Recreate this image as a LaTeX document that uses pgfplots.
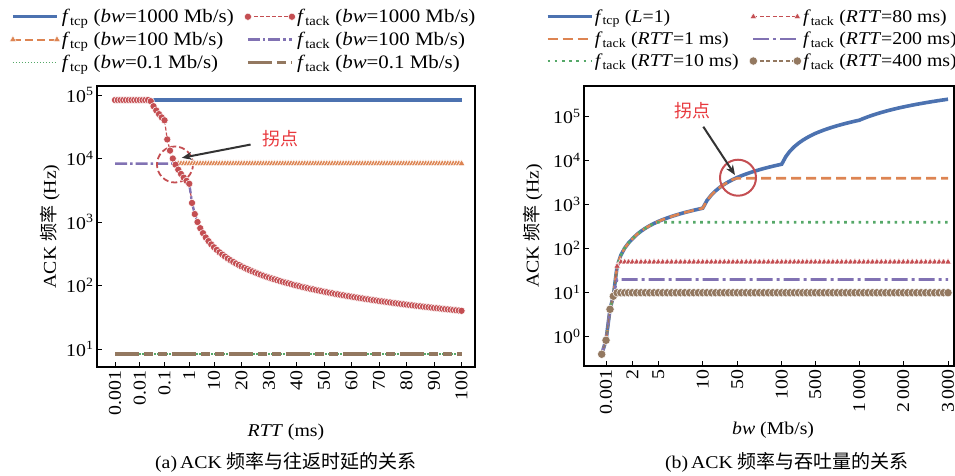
\documentclass[border=0pt]{standalone}
\usepackage{fontspec}
\setmainfont{Liberation Serif}[FakeStretch=1.1]
\newfontfamily\cjk{Noto Sans CJK SC}
\usepackage{pgfplots}
\pgfplotsset{compat=1.18}
\usepackage{pgfplotstable}
\usetikzlibrary{arrows.meta}

\definecolor{cblue}{HTML}{4C72B0}
\definecolor{corange}{HTML}{DD8452}
\definecolor{cgreen}{HTML}{55A868}
\definecolor{cred}{HTML}{C44E52}
\definecolor{cpurple}{HTML}{8172B3}
\definecolor{cbrown}{HTML}{937860}
\definecolor{cnote}{HTML}{E8383D}
\definecolor{carrow}{HTML}{333333}

% (a) f vs RTT, one row per RTT sample (x = sample index)
\pgfplotstableread{
rtt tackA tackB tcpB
0.001 83333 8333.3 nan
0.002 83333 8333.3 nan
0.003 83333 8333.3 nan
0.004 83333 8333.3 nan
0.005 83333 8333.3 nan
0.006 83333 8333.3 nan
0.007 83333 8333.3 nan
0.008 83333 8333.3 nan
0.009 83333 8333.3 nan
0.01 83333 8333.3 nan
0.02 83333 8333.3 nan
0.03 83333 8333.3 nan
0.04 83333 8333.3 nan
0.05 80000 8333.3 nan
0.06 66667 8333.3 nan
0.07 57143 8333.3 nan
0.08 50000 8333.3 nan
0.09 44444 8333.3 nan
0.1 40000 8333.3 nan
0.2 20000 8333.3 nan
0.3 13333 8333.3 nan
0.4 10000 8333.3 nan
0.5 8000 8000 8333.3
0.6 6667 6667 8333.3
0.7 5714 5714 8333.3
0.8 5000 5000 8333.3
0.9 4444 4444 8333.3
1 4000 4000 8333.3
2 2000 2000 8333.3
3 1333 1333 8333.3
4 1000 1000 8333.3
5 800 800 8333.3
6 667 667 8333.3
7 571 571 8333.3
8 500 500 8333.3
9 444 444 8333.3
10 400 400 8333.3
11 363.6 363.6 8333.3
12 333.3 333.3 8333.3
13 307.7 307.7 8333.3
14 285.7 285.7 8333.3
15 266.7 266.7 8333.3
16 250.0 250.0 8333.3
17 235.3 235.3 8333.3
18 222.2 222.2 8333.3
19 210.5 210.5 8333.3
20 200.0 200.0 8333.3
21 190.5 190.5 8333.3
22 181.8 181.8 8333.3
23 173.9 173.9 8333.3
24 166.7 166.7 8333.3
25 160.0 160.0 8333.3
26 153.8 153.8 8333.3
27 148.1 148.1 8333.3
28 142.9 142.9 8333.3
29 137.9 137.9 8333.3
30 133.3 133.3 8333.3
31 129.0 129.0 8333.3
32 125.0 125.0 8333.3
33 121.2 121.2 8333.3
34 117.6 117.6 8333.3
35 114.3 114.3 8333.3
36 111.1 111.1 8333.3
37 108.1 108.1 8333.3
38 105.3 105.3 8333.3
39 102.6 102.6 8333.3
40 100.0 100.0 8333.3
41 97.6 97.6 8333.3
42 95.2 95.2 8333.3
43 93.0 93.0 8333.3
44 90.9 90.9 8333.3
45 88.9 88.9 8333.3
46 87.0 87.0 8333.3
47 85.1 85.1 8333.3
48 83.3 83.3 8333.3
49 81.6 81.6 8333.3
50 80.0 80.0 8333.3
51 78.4 78.4 8333.3
52 76.9 76.9 8333.3
53 75.5 75.5 8333.3
54 74.1 74.1 8333.3
55 72.7 72.7 8333.3
56 71.4 71.4 8333.3
57 70.2 70.2 8333.3
58 69.0 69.0 8333.3
59 67.8 67.8 8333.3
60 66.7 66.7 8333.3
61 65.6 65.6 8333.3
62 64.5 64.5 8333.3
63 63.5 63.5 8333.3
64 62.5 62.5 8333.3
65 61.5 61.5 8333.3
66 60.6 60.6 8333.3
67 59.7 59.7 8333.3
68 58.8 58.8 8333.3
69 58.0 58.0 8333.3
70 57.1 57.1 8333.3
71 56.3 56.3 8333.3
72 55.6 55.6 8333.3
73 54.8 54.8 8333.3
74 54.1 54.1 8333.3
75 53.3 53.3 8333.3
76 52.6 52.6 8333.3
77 51.9 51.9 8333.3
78 51.3 51.3 8333.3
79 50.6 50.6 8333.3
80 50.0 50.0 8333.3
81 49.4 49.4 8333.3
82 48.8 48.8 8333.3
83 48.2 48.2 8333.3
84 47.6 47.6 8333.3
85 47.1 47.1 8333.3
86 46.5 46.5 8333.3
87 46.0 46.0 8333.3
88 45.5 45.5 8333.3
89 44.9 44.9 8333.3
90 44.4 44.4 8333.3
91 44.0 44.0 8333.3
92 43.5 43.5 8333.3
93 43.0 43.0 8333.3
94 42.6 42.6 8333.3
95 42.1 42.1 8333.3
96 41.7 41.7 8333.3
97 41.2 41.2 8333.3
98 40.8 40.8 8333.3
99 40.4 40.4 8333.3
100 40.0 40.0 8333.3
}\rttdata

% (b) f vs bw; x is the position along the (non-uniform) bw axis
\pgfplotstableread{
x tcp r1 r10 r80 r200 r400
601.7 0.4 0.4 0.4 0.4 0.4 0.4
606.0 0.83 0.83 0.83 0.83 0.83 0.83
610.0 4.2 4.2 4.2 4.2 4.2 4.2
613.3 8.33 8.33 8.33 8.33 8.33 8.33
617.1 40.0 40.0 40.0 40.0 20 10
620.9 71.7 71.7 71.7 50 20 10
624.7 103.3 103.3 103.3 50 20 10
628.5 135.0 135.0 135.0 50 20 10
632.3 166.7 166.7 166.7 50 20 10
636.6 208.3 208.3 208.3 50 20 10
641.0 250.0 250.0 250.0 50 20 10
645.3 291.7 291.7 291.7 50 20 10
649.6 333.3 333.3 333.3 50 20 10
654.0 375.0 375.0 375.0 50 20 10
658.3 416.7 416.7 400 50 20 10
662.7 458.3 458.3 400 50 20 10
667.2 500.0 500.0 400 50 20 10
671.6 541.7 541.7 400 50 20 10
676.1 583.3 583.3 400 50 20 10
680.5 625.0 625.0 400 50 20 10
684.9 666.7 666.7 400 50 20 10
689.4 708.3 708.3 400 50 20 10
693.8 750.0 750.0 400 50 20 10
698.3 791.7 791.7 400 50 20 10
702.7 833.3 833.3 400 50 20 10
707.0 1250 1250 400 50 20 10
711.4 1666.7 1666.7 400 50 20 10
715.7 2083.3 2083.3 400 50 20 10
720.0 2500 2500 400 50 20 10
724.3 2916.7 2916.7 400 50 20 10
728.7 3333.3 3333.3 400 50 20 10
733.0 3750 3750 400 50 20 10
737.3 4166.7 4000 400 50 20 10
741.7 4583.3 4000 400 50 20 10
746.2 5000 4000 400 50 20 10
750.6 5416.7 4000 400 50 20 10
755.1 5833.3 4000 400 50 20 10
759.5 6250 4000 400 50 20 10
763.9 6666.7 4000 400 50 20 10
768.4 7083.3 4000 400 50 20 10
772.8 7500 4000 400 50 20 10
777.3 7916.7 4000 400 50 20 10
781.7 8333.3 4000 400 50 20 10
785.9 12500 4000 400 50 20 10
790.1 16667 4000 400 50 20 10
794.3 20833 4000 400 50 20 10
798.5 25000 4000 400 50 20 10
802.7 29167 4000 400 50 20 10
806.9 33333 4000 400 50 20 10
811.1 37500 4000 400 50 20 10
815.3 41667 4000 400 50 20 10
819.7 45833 4000 400 50 20 10
824.1 50000 4000 400 50 20 10
828.5 54167 4000 400 50 20 10
832.9 58333 4000 400 50 20 10
837.3 62500 4000 400 50 20 10
841.7 66667 4000 400 50 20 10
846.1 70833 4000 400 50 20 10
850.5 75000 4000 400 50 20 10
854.9 79167 4000 400 50 20 10
859.3 83333 4000 400 50 20 10
863.7 91667 4000 400 50 20 10
868.1 100000 4000 400 50 20 10
872.5 108333 4000 400 50 20 10
876.9 116667 4000 400 50 20 10
881.3 125000 4000 400 50 20 10
885.7 133333 4000 400 50 20 10
890.1 141667 4000 400 50 20 10
894.5 150000 4000 400 50 20 10
898.9 158333 4000 400 50 20 10
903.3 166667 4000 400 50 20 10
907.8 175000 4000 400 50 20 10
912.2 183333 4000 400 50 20 10
916.7 191667 4000 400 50 20 10
921.2 200000 4000 400 50 20 10
925.7 208333 4000 400 50 20 10
930.1 216667 4000 400 50 20 10
934.6 225000 4000 400 50 20 10
939.1 233333 4000 400 50 20 10
943.5 241667 4000 400 50 20 10
948.0 250000 4000 400 50 20 10
}\bwdata

\pgfplotsset{
  legend image code/.code={\draw[#1] plot coordinates {(0pt,0pt) (44pt,0pt)};},
  every axis/.append style={
    scale only axis, enlargelimits=false,
    axis line style={line width=1.1pt},
    tick align=inside, xtick pos=left, ytick pos=left,
    major tick length=5pt, tick style={black, line width=1pt},
    minor tick style={draw=none},
    tick label style={font=\fontsize{18}{21}\selectfont},
    label style={font=\fontsize{18}{21}\selectfont},
    xticklabel style={rotate=90, anchor=east},
    ylabel={ACK {\cjk 频率} (Hz)},
    legend cell align=left, legend columns=2,
    legend style={draw=none, fill=none, inner sep=0pt, row sep=5pt,
      nodes={inner sep=1.5pt},
      /tikz/every even column/.append style={column sep=9pt}},
  },
}
\tikzset{
  lblue/.style={cblue, line width=3.2pt},
  lorange/.style={corange, line width=2.2pt, dash pattern=on 8pt off 4pt,
    mark=triangle*, mark size=4pt, mark options={solid, fill=corange, draw=white, line width=0.5pt}},
  lgreen/.style={cgreen, line width=1.4pt, dash pattern=on 1.5pt off 1.5pt},
  lred/.style={cred, line width=1.2pt, dash pattern=on 4pt off 2pt,
    mark=*, mark size=3.6pt, mark options={solid, fill=cred, draw=white, line width=0.5pt}},
  lpurple/.style={cpurple, line width=2.4pt, dash pattern=on 12pt off 3pt on 2.5pt off 3pt},
  lbrown/.style={cbrown, line width=3.6pt,
    dash pattern=on 24pt off 5pt on 9pt off 5pt on 9pt off 5pt},
  rblue/.style={cblue, line width=3.6pt},
  rorange/.style={corange, line width=2.6pt, dash pattern=on 10pt off 5pt},
  rgreen/.style={cgreen, line width=2.6pt, dash pattern=on 2.6pt off 4.6pt},
  rred/.style={cred, line width=1.2pt, dash pattern=on 4pt off 2.5pt,
    mark=triangle*, mark size=3.8pt, mark options={solid, fill=cred, draw=white, line width=0.5pt}},
  rpurple/.style={cpurple, line width=2.6pt, dash pattern=on 16pt off 4pt on 3pt off 4pt},
  rbrown/.style={cbrown, line width=1.2pt, dash pattern=on 4pt off 2.5pt,
    mark=*, mark size=4.2pt, mark options={solid, fill=cbrown, draw=white, line width=0.5pt}},
}

% legend text: left panel a bit larger than the right one
\newcommand{\ftcp}{\fontsize{19}{22}\selectfont\textit{f}\textsubscript{tcp}}
\newcommand{\ftack}{\fontsize{19}{22}\selectfont\textit{f}\textsubscript{tack}}
\newcommand{\rtcp}{\fontsize{18}{21}\selectfont\textit{f}\textsubscript{tcp}}
\newcommand{\rtack}{\fontsize{18}{21}\selectfont\textit{f}\textsubscript{tack}}

\begin{document}
\begin{tikzpicture}[font=\fontsize{18}{21}\selectfont]
\useasboundingbox (0,0) rectangle (955pt,475pt);

\begin{semilogyaxis}[
  at={(97pt,108pt)}, anchor=south west, width=378pt, height=281pt,
  xmin=-6.55, xmax=130.9, ymin=5.21, ymax=1.387e5,
  xtick={0,9,18,27,36,46,56,66,76,86,96,106,116,126},
  xticklabels={0.001,0.01,0.1,1,10,20,30,40,50,60,70,80,90,100},
  ytick={10,100,1000,10000,100000},
  yticklabels={10\textsuperscript{1},10\textsuperscript{2},10\textsuperscript{3},10\textsuperscript{4},10\textsuperscript{5}},
  xlabel={\textit{RTT} (ms)},
  xlabel style={at={(axis description cs:0.5,-0.231)}, anchor=center},
  ylabel style={at={(axis description cs:-0.124,0.5)}, anchor=center},
  legend style={at={(-0.232,1.279)}, anchor=north west},
]
\addlegendimage{lblue}\addlegendentry{\ftcp{} (\textit{bw}=1000 Mb/s)}
\addlegendimage{lred}\addlegendentry{\ftack{} (\textit{bw}=1000 Mb/s)}
\addlegendimage{lorange}\addlegendentry{\ftcp{} (\textit{bw}=100 Mb/s)}
\addlegendimage{lpurple}\addlegendentry{\ftack{} (\textit{bw}=100 Mb/s)}
\addlegendimage{lgreen}\addlegendentry{\ftcp{} (\textit{bw}=0.1 Mb/s)}
\addlegendimage{lbrown}\addlegendentry{\ftack{} (\textit{bw}=0.1 Mb/s)}

\addplot[lblue, forget plot] coordinates {(0,83333) (126,83333)};
\addplot[lorange, forget plot] table[x expr=\coordindex, y=tcpB] {\rttdata};
\addplot[lgreen, forget plot] coordinates {(0,8.333) (126,8.333)};
\addplot[lred, forget plot] table[x expr=\coordindex, y=tackA] {\rttdata};
\addplot[lpurple, forget plot] table[x expr=\coordindex, y=tackB] {\rttdata};
\addplot[lbrown, forget plot] coordinates {(0,8.333) (126,8.333)};

\draw[cred, line width=1.8pt, dash pattern=on 6pt off 3pt] (axis cs:21.8,8050) circle[radius=18pt];
\draw[carrow, line width=2pt, -{Stealth[length=10pt,width=8pt]}]
  (axis cs:49.3,16600) -- (axis cs:24.3,10260);
\node[text=cnote, font=\fontsize{18}{20}\cjk] at (axis cs:60,20650) {拐点};
\end{semilogyaxis}

\begin{semilogyaxis}[
  at={(584pt,109pt)}, anchor=south west, width=370pt, height=280pt,
  xmin=584, xmax=954, ymin=0.216, ymax=4.99e5,
  xtick={606,632.3,658.3,702.7,737.3,781.7,815.3,859.3,903.3,948},
  xticklabels={0.001,2,5,10,50,100,500,1\,000,2\,000,3\,000},
  ytick={1,10,100,1000,10000,100000},
  yticklabels={10\textsuperscript{0},10\textsuperscript{1},10\textsuperscript{2},10\textsuperscript{3},10\textsuperscript{4},10\textsuperscript{5}},
  xlabel={\textit{bw} (Mb/s)},
  xlabel style={at={(axis description cs:0.511,-0.229)}, anchor=center},
  ylabel style={at={(axis description cs:-0.138,0.5)}, anchor=center},
  legend style={at={(-0.104,1.279)}, anchor=north west},
]
\addlegendimage{rblue}\addlegendentry{\rtcp{} (\textit{L}=1)}
\addlegendimage{rred}\addlegendentry{\rtack{} (\textit{RTT}=80 ms)}
\addlegendimage{rorange}\addlegendentry{\rtack{} (\textit{RTT}=1 ms)}
\addlegendimage{rpurple}\addlegendentry{\rtack{} (\textit{RTT}=200 ms)}
\addlegendimage{rgreen}\addlegendentry{\rtack{} (\textit{RTT}=10 ms)}
\addlegendimage{rbrown}\addlegendentry{\rtack{} (\textit{RTT}=400 ms)}

\addplot[rblue, forget plot] table[x=x, y=tcp] {\bwdata};
\addplot[rorange, forget plot] table[x=x, y=r1] {\bwdata};
\addplot[rgreen, forget plot] table[x=x, y=r10] {\bwdata};
\addplot[rred, forget plot] table[x=x, y=r80] {\bwdata};
\addplot[rpurple, forget plot] table[x=x, y=r200] {\bwdata};
\addplot[rbrown, forget plot] table[x=x, y=r400] {\bwdata};

\draw[cred, line width=2pt] (axis cs:738,4110) circle[radius=18pt];
\draw[carrow, line width=2pt, -{Stealth[length=10pt,width=8pt]}]
  (axis cs:703.3,59300) -- (axis cs:735,4730);
\node[text=cnote, font=\fontsize{18}{20}\cjk] at (axis cs:692,1.37e5) {拐点};
\end{semilogyaxis}

\node at (286pt,13pt) {(a)\,ACK {\cjk\fontsize{19}{21}\selectfont 频率与往返时延的关系}};
\node at (787pt,13pt) {(b)\,ACK {\cjk\fontsize{19}{21}\selectfont 频率与吞吐量的关系}};
\end{tikzpicture}
\end{document}
